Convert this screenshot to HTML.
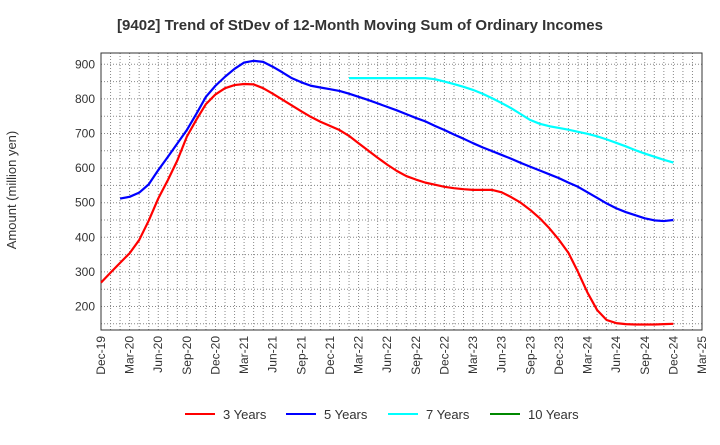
<!DOCTYPE html>
<html><head><meta charset="utf-8"><style>
body{margin:0;background:#fff;font-family:"Liberation Sans",sans-serif}
</style></head><body>
<svg id="c" width="720" height="440" xmlns="http://www.w3.org/2000/svg" font-family="Liberation Sans, sans-serif"></svg>
<script>
const xLabels=["Dec-19","Mar-20","Jun-20","Sep-20","Dec-20","Mar-21","Jun-21","Sep-21","Dec-21","Mar-22","Jun-22","Sep-22","Dec-22","Mar-23","Jun-23","Sep-23","Dec-23","Mar-24","Jun-24","Sep-24","Dec-24","Mar-25"];
const yTicks=[200,300,400,500,600,700,800,900];
const s3Start=0;
const s3=[269,298,326,354,392,448,512,565,622,691,740,785,813,831,840,843,842,831,815,798,781,764,748,734,722,710,693,672,651,630,610,592,577,567,558,552,546,542,539,537,537,537,530,516,500,479,455,426,393,355,300,240,190,161,152,149,148,148,148,149,150];
const s5Start=2;
const s5=[512,517,529,553,594,632,671,710,757,806,838,864,887,905,910,907,893,877,860,848,838,833,828,823,815,806,797,787,777,767,756,745,735,722,710,697,685,672,660,649,638,627,615,604,593,582,571,558,546,530,514,498,484,473,464,455,449,447,450];
const s7Start=26;
const s7=[860,860,860,860,860,860,860,860,860,857,850,843,835,826,815,802,788,773,756,739,728,721,716,711,705,699,692,683,673,663,652,642,633,624,616];
const s10=[];
const NS="http://www.w3.org/2000/svg",svg=document.getElementById('c');
const L=101,R=702,T=53,B=330,nMonths=63;
const x=i=>L+i*(R-L)/nMonths;
const y=v=>64.3+(900-v)*0.346;
function el(t,a,p){const e=document.createElementNS(NS,t);for(const k in a)e.setAttribute(k,a[k]);(p||svg).appendChild(e);return e;}
const title=el('text',{x:360,y:30,'text-anchor':'middle','font-size':15,'font-weight':'bold',fill:'#333'});

title.textContent='[9402]  Trend of StDev of 12-Month Moving Sum of Ordinary Incomes';
const grid=el('g',{});
for(let i=1;i<nMonths;i++){el('line',{x1:x(i),x2:x(i),y1:T,y2:B,stroke:'#888','stroke-width':1,'stroke-dasharray':'1,2'},grid);}
for(let v=150;v<=930;v+=50){if(y(v)>T&&y(v)<B)el('line',{x1:L,x2:R,y1:y(v),y2:y(v),stroke:'#888','stroke-width':1,'stroke-dasharray':'1,2'},grid);}
const frame=el('rect',{x:L,y:T,width:R-L,height:B-T,fill:'none',stroke:'#333','stroke-width':1});

yTicks.forEach(v=>{const t=el('text',{x:L-6,y:y(v)+4,'text-anchor':'end','font-size':12,fill:'#333'});
t.textContent=v;});
xLabels.forEach((lb,i)=>{const xx=x(i*3);const t=el('text',{x:0,y:0,'text-anchor':'end','font-size':12,fill:'#333',transform:`translate(${xx+4},${B+6}) rotate(-90)`});
t.textContent=lb;});
const yt=el('text',{x:0,y:0,'text-anchor':'middle','font-size':13,fill:'#333',transform:'translate(16,190) rotate(-90)'});
yt.textContent='Amount (million yen)';
function line(data,start,color,name){if(!data.length)return;const p=el('polyline',{points:data.map((v,i)=>x(start+i)+','+y(v)).join(' '),fill:'none',stroke:color,'stroke-width':2.2,'stroke-linejoin':'round'});
}
line(s3,s3Start,'#f00','series-3-years');line(s5,s5Start,'#00f','series-5-years');line(s7,s7Start,'#0ff','series-7-years');line(s10,0,'#080','series-10-years');
const leg=[['3 Years','#f00',185],['5 Years','#00f',286],['7 Years','#0ff',388],['10 Years','#080',490]];
leg.forEach(([n,c,lx])=>{const g=el('g',{});
el('line',{x1:lx,x2:lx+30,y1:414,y2:414,stroke:c,'stroke-width':2},g);
const t=el('text',{x:lx+38,y:419,'font-size':13,fill:'#333'},g);t.textContent=n;});
</script>
</body></html>
